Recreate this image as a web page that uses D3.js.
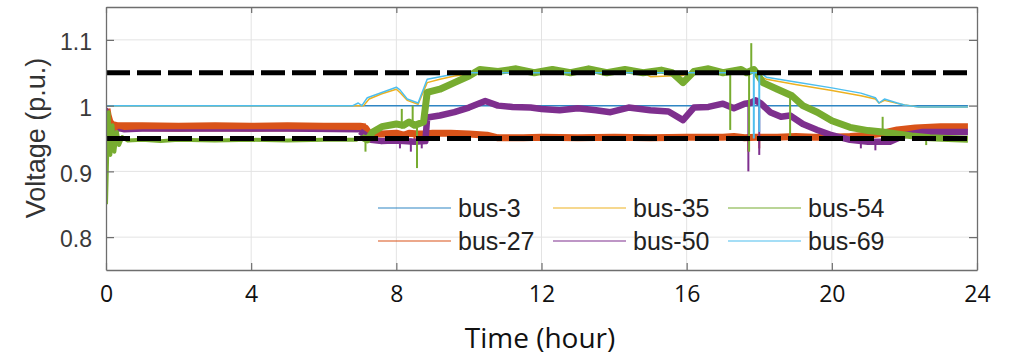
<!DOCTYPE html>
<html>
<head>
<meta charset="utf-8">
<script src="https://cdn.jsdelivr.net/npm/d3@7/dist/d3.min.js"></script>
<style>
  html, body { margin: 0; padding: 0; background: #fff; }
  svg { display: block; }
</style>
</head>
<body>
<svg id="chart" width="1023" height="355"></svg>
<script>
// ---------------- DATA ----------------
const xTicks = [0, 4, 8, 12, 16, 20, 24];
const yTicks = [0.8, 0.9, 1, 1.1];
const limits = [1.05, 0.95];
const seriesNames = ["bus-3", "bus-27", "bus-35", "bus-50", "bus-54", "bus-69"];

// [time (hour), voltage (p.u.)]
const bus3 = [[0, 1.0], [23.75, 1.0]];

const bus27 = [[0, 0.995], [0.03, 0.985], [0.08, 0.975], [0.15, 0.97], [0.3, 0.968], [1, 0.968], [2, 0.967], [3, 0.968],
  [4, 0.967], [5, 0.968], [6, 0.967], [7, 0.967], [7.15, 0.966], [7.25, 0.958], [7.6, 0.957], [8.0, 0.958], [8.2, 0.955],
  [8.35, 0.958], [8.6, 0.957], [8.75, 0.957], [9, 0.958], [9.5, 0.958], [10, 0.957], [10.5, 0.955],
  [10.8, 0.951], [11.5, 0.951], [12, 0.952], [13, 0.951], [14, 0.952], [15, 0.951], [16, 0.952], [17, 0.952],
  [17.3, 0.953], [17.6, 0.951], [17.9, 0.952], [18.5, 0.952],
  [19, 0.953], [19.5, 0.952], [20, 0.952], [20.5, 0.953], [21, 0.955], [21.4, 0.958], [21.8, 0.963], [22.3, 0.966],
  [23, 0.968], [23.75, 0.968]];

const bus35 = [[0, 1.0], [6.8, 1.0], [7.1, 1.0], [7.25, 1.01], [7.6, 1.018], [8.0, 1.025], [8.1, 1.02], [8.3, 1.008],
  [8.6, 1.002], [8.85, 1.035], [9.2, 1.04], [9.6, 1.045], [10, 1.048], [11, 1.05], [14.8, 1.05], [15.0, 1.044],
  [15.5, 1.045], [15.9, 1.046], [16.2, 1.05], [17.5, 1.05], [17.85, 1.05], [18.2, 1.04], [19, 1.032], [20, 1.023],
  [20.8, 1.015], [21.2, 1.01], [21.3, 1.004], [21.45, 1.008], [22, 1.001], [22.4, 0.998], [23.75, 0.998]];

const bus50 = [[0, 0.96], [0.03, 0.995], [0.08, 0.97], [0.13, 0.95], [0.2, 0.965], [0.27, 0.955], [0.35, 0.963],
  [0.5, 0.961], [1, 0.962], [3, 0.962], [5, 0.962], [7, 0.961], [7.15, 0.955], [7.3, 0.948], [7.6, 0.946], [7.9, 0.947],
  [8.2, 0.946], [8.5, 0.945], [8.8, 0.946], [8.85, 0.982], [9.2, 0.985],
  [9.6, 0.99], [10, 0.997], [10.45, 1.007], [10.8, 1.0], [11.2, 0.998], [11.7, 0.997], [12, 0.995], [12.5, 0.993],
  [13, 0.996], [13.5, 0.993], [13.9, 0.99], [14.4, 0.997], [15, 0.993], [15.5, 0.991], [15.9, 0.978], [16.2, 0.997],
  [16.6, 0.998], [17, 1.003], [17.3, 0.996], [17.6, 1.003], [17.75, 1.004], [17.9, 1.008],
  [18.05, 1.003], [18.3, 0.99], [18.6, 0.983], [18.85, 0.985], [19.2, 0.972], [19.6, 0.963], [20, 0.955], [20.5, 0.948],
  [21, 0.945], [21.6, 0.945], [22, 0.955], [22.5, 0.96], [23, 0.96], [23.75, 0.96]];

const bus54 = [[0, 0.85], [0.03, 0.92], [0.07, 0.99], [0.12, 0.925], [0.18, 0.97], [0.23, 0.93], [0.3, 0.96],
  [0.36, 0.94], [0.45, 0.952], [0.6, 0.947], [1, 0.948], [1.5, 0.946], [2, 0.948], [3, 0.947], [4, 0.948], [5, 0.947],
  [6, 0.948], [6.9, 0.948], [7.05, 0.952], [7.2, 0.948], [7.35, 0.96], [7.6, 0.968], [8.0, 0.972],
  [8.2, 0.97], [8.35, 0.975], [8.5, 0.97], [8.75, 0.975], [8.85, 1.02], [9.2, 1.025], [9.6, 1.035], [10, 1.045],
  [10.3, 1.055], [10.8, 1.052], [11.3, 1.056],
  [11.8, 1.05], [12.3, 1.055], [12.8, 1.05], [13.3, 1.056], [13.8, 1.05], [14.3, 1.055], [14.8, 1.05], [15.3, 1.054],
  [15.6, 1.05], [15.9, 1.035], [16.2, 1.052], [16.6, 1.056], [17, 1.05], [17.5, 1.055], [17.65, 1.05],
  [17.85, 1.055], [17.95, 1.048], [18.1, 1.035],
  [18.5, 1.025], [18.9, 1.015], [19.2, 1.0], [19.6, 0.99], [20, 0.977], [20.5, 0.967],
  [21, 0.962], [21.4, 0.96], [21.8, 0.957], [22.2, 0.954], [22.7, 0.951], [23.2, 0.95], [23.75, 0.949]];

const bus69 = [[0, 1.0], [6.8, 1.0], [6.95, 1.004], [7.05, 1.0], [7.2, 1.012], [7.6, 1.02], [8.0, 1.028], [8.1, 1.024],
  [8.3, 1.01], [8.6, 1.004], [8.85, 1.04], [9.5, 1.047], [10, 1.05], [17.5, 1.05], [18.05, 1.05], [18.2, 1.043],
  [19, 1.036], [20, 1.027], [20.8, 1.019], [21.2, 1.012],
  [21.3, 1.004], [21.45, 1.01], [21.8, 1.004], [22.0, 1.001], [22.4, 0.998], [23.75, 0.998]];

// short transients: [time, low voltage, high voltage]
const bus27Spikes = [[8.5, 0.945, 0.96], [17.7, 0.93, 0.955], [18.0, 0.935, 0.955]];
const bus50Spikes = [[8.1, 0.935, 0.95], [8.4, 0.93, 0.95], [8.7, 0.935, 0.95], [17.7, 0.9, 1.003],
  [18.0, 0.925, 1.006], [20.8, 0.935, 0.946], [21.2, 0.932, 0.946]];
const bus54Spikes = [[7.15, 0.93, 0.955], [8.15, 0.965, 0.995], [8.45, 0.97, 1.0], [8.57, 0.905, 0.975],
  [17.2, 0.963, 1.055], [17.72, 0.93, 1.055], [17.78, 1.05, 1.095], [18.85, 0.952, 1.018], [21.4, 0.96, 0.983],
  [22.6, 0.94, 0.952]];
const bus69Spikes = [[17.85, 0.95, 1.05], [18.0, 0.96, 1.05]];

const seriesData = [bus3, bus27, bus35, bus50, bus54, bus69];
const seriesSpikes = [[], bus27Spikes, [], bus50Spikes, bus54Spikes, bus69Spikes];

// ---------------- STYLE ----------------
const colors = ["#2f86c4", "#D95319", "#EDB120", "#7E2F8E", "#77AC30", "#4DBEEE"];
// stroke widths: [before split, after split]
const widths = [[1.5, 1.5], [9, 7], [1.5, 1.5], [2.5, 6.5], [4, 7], [1.5, 1.5]];
const widthSplit = 7.1;

// ---------------- CHART ----------------
const svg = d3.select("#chart");
const L = 106, R = 977, T = 7, B = 270;
const x = d3.scaleLinear().domain([0, 24]).range([L, R]);
const y = d3.scaleLinear().domain([0.75, 1.15]).range([B, T]);

// grid
const grid = svg.append("g");
grid.selectAll("line.gx").data(xTicks.slice(1, -1)).join("line")
  .attr("x1", d => x(d)).attr("x2", d => x(d)).attr("y1", T).attr("y2", B)
  .attr("stroke", "#e3e3e3").attr("stroke-width", 1);
grid.selectAll("line.gy").data(yTicks).join("line")
  .attr("x1", L).attr("x2", R).attr("y1", d => y(d)).attr("y2", d => y(d))
  .attr("stroke", "#e3e3e3").attr("stroke-width", 1);

svg.append("defs").append("clipPath").attr("id", "clip")
  .append("rect").attr("x", L).attr("y", T).attr("width", R - L).attr("height", B - T);

const line = d3.line().x(d => x(d[0])).y(d => y(d[1]));
const plot = svg.append("g").attr("clip-path", "url(#clip)");

seriesData.forEach((data, i) => {
  const w = widths[i];
  const g = plot.append("g");
  const addPath = (arr, sw) => g.append("path").datum(arr).attr("d", line)
    .attr("fill", "none").attr("stroke", colors[i]).attr("stroke-width", sw)
    .attr("stroke-linejoin", "round");
  if (w[0] === w[1]) {
    addPath(data, w[0]);
  } else {
    const idx = data.findIndex(d => d[0] >= widthSplit);
    addPath(data.slice(0, idx + 1), w[0]);
    addPath(data.slice(idx - 1), w[1]);
  }
  g.selectAll("line.spike").data(seriesSpikes[i]).join("line")
    .attr("x1", d => x(d[0])).attr("x2", d => x(d[0]))
    .attr("y1", d => y(d[1])).attr("y2", d => y(d[2]))
    .attr("stroke", colors[i]).attr("stroke-width", 2);
});

// limit dashed lines
plot.selectAll("line.lim").data(limits).join("line")
  .attr("x1", x(0)).attr("x2", x(23.85)).attr("y1", d => y(d)).attr("y2", d => y(d))
  .attr("stroke", "#000").attr("stroke-width", 5).attr("stroke-dasharray", "24,7");

// axes
const axisColor = "#6e6e6e";
const gb = svg.append("g").attr("transform", `translate(0,${B})`)
  .call(d3.axisBottom(x).tickValues(xTicks).tickSize(-7).tickPadding(16).tickSizeOuter(0));
gb.selectAll("text").attr("font-family", "'Open Sans', sans-serif").attr("font-size", 23).attr("fill", "#111");
const gl = svg.append("g").attr("transform", `translate(${L},0)`)
  .call(d3.axisLeft(y).tickValues(yTicks).tickFormat(d3.format("")).tickSize(-8).tickPadding(14).tickSizeOuter(0));
gl.selectAll("text").attr("font-family", "'Liberation Sans', Arial, sans-serif").attr("font-size", 23)
  .attr("fill", "#3a3a3a").attr("dy", "0.42em");
const gt = svg.append("g").attr("transform", `translate(0,${T})`)
  .call(d3.axisTop(x).tickValues(xTicks).tickSize(-6).tickFormat("").tickSizeOuter(0));
const gr = svg.append("g").attr("transform", `translate(${R},0)`)
  .call(d3.axisRight(y).tickValues(yTicks).tickSize(-8).tickFormat("").tickSizeOuter(0));
[gb, gl, gt, gr].forEach(g => {
  g.select(".domain").attr("stroke", axisColor).attr("stroke-width", 1.3);
  g.selectAll(".tick line").attr("stroke", axisColor).attr("stroke-width", 1.2);
});

// axis labels
svg.append("text").attr("x", 540).attr("y", 348).attr("text-anchor", "middle")
  .attr("font-family", "'Open Sans', sans-serif").attr("font-size", 28).attr("fill", "#111")
  .text("Time (hour)");
svg.append("text").attr("transform", "translate(45,138) rotate(-90)").attr("text-anchor", "middle")
  .attr("font-family", "'Liberation Sans', Arial, sans-serif").attr("font-size", 27).attr("fill", "#333")
  .text("Voltage (p.u.)");

// legend (column-major order)
const legendCols = [378, 553, 728];
const legendRows = [208, 241];
const leg = svg.append("g");
seriesNames.forEach((name, i) => {
  const cx = legendCols[Math.floor(i / 2)];
  const cy = legendRows[i % 2];
  leg.append("line").attr("x1", cx).attr("x2", cx + 73).attr("y1", cy).attr("y2", cy)
    .attr("stroke", colors[i]).attr("stroke-width", 1.2);
  leg.append("text").attr("x", cx + 80).attr("y", cy).attr("dy", "0.36em")
    .attr("font-family", "'Liberation Sans', Arial, sans-serif").attr("font-size", 25).attr("fill", "#222")
    .text(name);
});
</script>
</body>
</html>
